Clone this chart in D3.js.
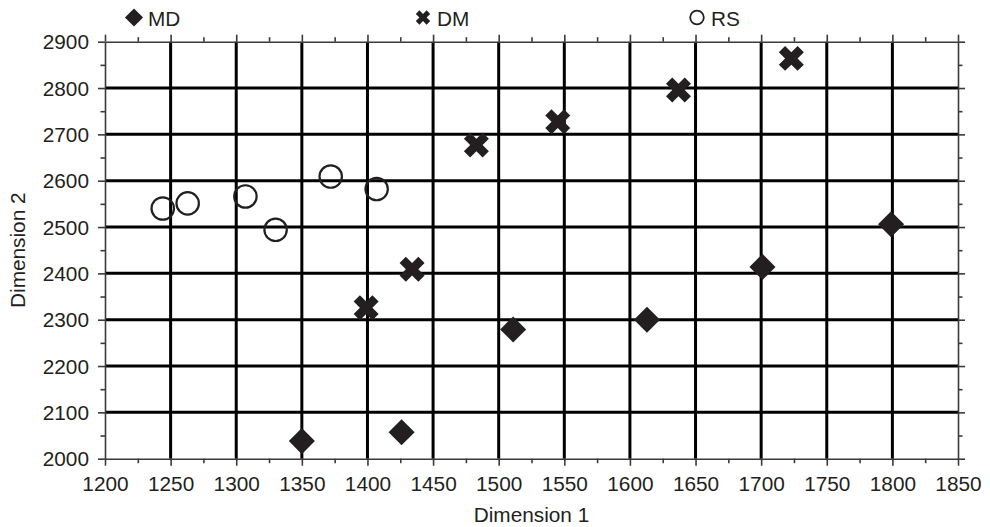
<!DOCTYPE html>
<html>
<head>
<meta charset="utf-8">
<script src="https://cdn.jsdelivr.net/npm/d3@7"></script>
<style>
  html, body { margin: 0; padding: 0; background: #fff; }
  svg { display: block; }
  text { font-family: "Liberation Sans", Arial, Helvetica, sans-serif; fill: #231f20; }
</style>
</head>
<body>
<svg id="chart" width="990" height="527"></svg>
<script>
// Series values [Dimension 1, Dimension 2]
const mdPoints = [[1350, 2038], [1426, 2057], [1511, 2279], [1613, 2300], [1701, 2414], [1799, 2506]];
const dmPoints = [[1399, 2326], [1434, 2409], [1483, 2677], [1545, 2727], [1637, 2796], [1723, 2864]];
const rsPoints = [[1244, 2540], [1263, 2551], [1307, 2566], [1330, 2494], [1372, 2609], [1407, 2582]];

const seriesNames = ["MD", "DM", "RS"];
const xTicks = [1200, 1250, 1300, 1350, 1400, 1450, 1500, 1550, 1600, 1650, 1700, 1750, 1800, 1850];
const yTicks = [2000, 2100, 2200, 2300, 2400, 2500, 2600, 2700, 2800, 2900];
const xMinorTicks = [1225, 1275, 1325, 1375, 1425, 1475, 1525, 1575, 1625, 1675, 1725, 1775, 1825];
const yMinorTicks = [2050, 2150, 2250, 2350, 2450, 2550, 2650, 2750, 2850];
const xTitle = "Dimension 1";
const yTitle = "Dimension 2";

const ink = "#231f20";
const stretch = 1.04; // slightly wide lettering
const fontSize = "20px";
const svg = d3.select("#chart");

const plotLeft = 105, plotRight = 958, plotTop = 41.7, plotBottom = 458.7;
const x = d3.scaleLinear().domain([1200, 1850]).range([plotLeft, plotRight]);
const y = d3.scaleLinear().domain([2000, 2900]).range([plotBottom, plotTop]);

// grid
const grid = svg.append("g");
grid.selectAll("line.v").data(xTicks.slice(1, -1)).join("line")
  .attr("x1", d => x(d)).attr("x2", d => x(d))
  .attr("y1", plotTop).attr("y2", plotBottom)
  .attr("stroke", "#000").attr("stroke-width", 3);
grid.selectAll("line.h").data(yTicks.slice(1, -1)).join("line")
  .attr("x1", plotLeft).attr("x2", plotRight)
  .attr("y1", d => y(d)).attr("y2", d => y(d))
  .attr("stroke", "#000").attr("stroke-width", 3);

// axes
function styleAxis(g) {
  g.selectAll("path.domain").attr("stroke", "#3a3a3a").attr("stroke-width", 1.6);
  g.selectAll("line").attr("stroke", "#3a3a3a").attr("stroke-width", 1.6);
}
function addAxis(axisFn, scale, ticks, minor, transform, labels) {
  const major = svg.append("g").attr("transform", transform)
    .call(axisFn(scale).tickValues(ticks).tickSize(7).tickSizeOuter(0)
      .tickFormat(labels ? d3.format("d") : ""));
  styleAxis(major);
  const mn = svg.append("g").attr("transform", transform)
    .call(axisFn(scale).tickValues(minor).tickSize(4.5).tickSizeOuter(0).tickFormat(""));
  styleAxis(mn);
  mn.select("path.domain").remove();
  return major;
}

const bx = addAxis(d3.axisBottom, x, xTicks, xMinorTicks, `translate(0,${plotBottom})`, true);
bx.selectAll("text").attr("y", 0).attr("dy", 0)
  .attr("transform", `translate(0,32.5) scale(${stretch},1)`)
  .style("font-size", fontSize);
addAxis(d3.axisTop, x, xTicks, xMinorTicks, `translate(0,${plotTop})`, false);
const ly = addAxis(d3.axisLeft, y, yTicks, yMinorTicks, `translate(${plotLeft},0)`, true);
ly.selectAll("text").attr("x", 0).attr("dy", "0.36em")
  .attr("transform", `translate(-16,0) scale(${stretch},1)`)
  .style("font-size", fontSize);
addAxis(d3.axisRight, y, yTicks, yMinorTicks, `translate(${plotRight},0)`, false);

// axis titles
svg.append("text").attr("text-anchor", "middle")
  .attr("transform", `translate(${(plotLeft + plotRight) / 2},521.5) scale(${stretch},1)`)
  .style("font-size", fontSize).text(xTitle);
svg.append("text").attr("text-anchor", "middle")
  .attr("transform", `translate(24.5,${(plotTop + plotBottom) / 2}) rotate(-90) scale(${stretch},1)`)
  .style("font-size", fontSize).text(yTitle);

// markers
const diamond = d3.symbol().type(d3.symbolSquare);
const cross = d3.symbol().type(d3.symbolCross);
const marks = svg.append("g");
marks.selectAll("path.md").data(mdPoints).join("path")
  .attr("d", diamond.size(340)())
  .attr("transform", d => `translate(${x(d[0])},${y(d[1])}) rotate(45)`)
  .attr("fill", ink);
marks.selectAll("path.dm").data(dmPoints).join("path")
  .attr("d", cross.size(390)())
  .attr("transform", d => `translate(${x(d[0])},${y(d[1])}) rotate(45)`)
  .attr("fill", ink);
marks.selectAll("circle.rs").data(rsPoints).join("circle")
  .attr("cx", d => x(d[0])).attr("cy", d => y(d[1])).attr("r", 11.2)
  .attr("fill", "none").attr("stroke", ink).attr("stroke-width", 2.2);

// legend
const legend = svg.append("g");
const legendX = [134, 423, 697];
legend.append("path").attr("d", diamond.size(165)())
  .attr("transform", `translate(${legendX[0]},17.5) rotate(45)`).attr("fill", ink);
legend.append("path").attr("d", cross.size(130)())
  .attr("transform", `translate(${legendX[1]},17.5) rotate(45)`).attr("fill", ink);
legend.append("circle").attr("cx", legendX[2]).attr("cy", 17.5).attr("r", 6.8)
  .attr("fill", "none").attr("stroke", ink).attr("stroke-width", 1.8);
seriesNames.forEach((name, i) => {
  legend.append("text")
    .attr("transform", `translate(${legendX[i] + 14},25.5) scale(${stretch},1)`)
    .style("font-size", fontSize).text(name);
});
</script>
</body>
</html>
